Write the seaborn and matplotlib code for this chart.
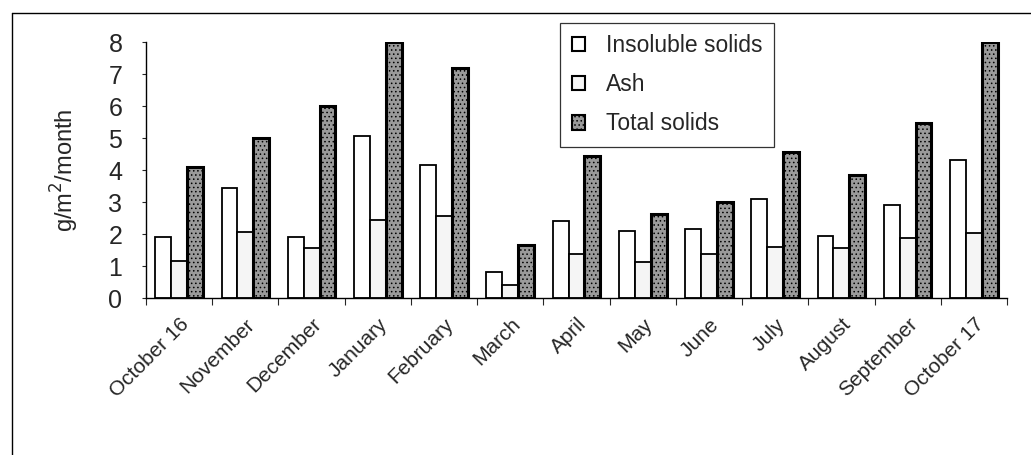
import numpy as np
import pandas as pd
import matplotlib
matplotlib.use("Agg")
import matplotlib.pyplot as plt
import seaborn as sns
from matplotlib.lines import Line2D

# ---------------- data ----------------
months = ["October 16", "November", "December", "January", "February", "March",
          "April", "May", "June", "July", "August", "September", "October 17"]
insoluble = [1.9, 3.45, 1.9, 5.05, 4.15, 0.8, 2.4, 2.1, 2.15, 3.1, 1.95, 2.9, 4.3]
ash = [1.15, 2.05, 1.57, 2.45, 2.55, 0.4, 1.38, 1.13, 1.38, 1.6, 1.57, 1.88, 2.03]
total = [4.1, 5.0, 6.0, 8.0, 7.2, 1.65, 4.43, 2.63, 3.0, 4.57, 3.85, 5.47, 8.0]
series = ["Insoluble solids", "Ash", "Total solids"]

df = pd.DataFrame({
    "month": months * 3,
    "value": insoluble + ash + total,
    "series": [series[0]] * 13 + [series[1]] * 13 + [series[2]] * 13,
})

# ---------------- style ----------------
sns.set_style("white")
plt.rcParams["font.family"] = ["Liberation Sans", "DejaVu Sans"]
plt.rcParams["hatch.linewidth"] = 0.6
plt.rcParams["hatch.color"] = "#555555"

fig = plt.figure(figsize=(10.31, 4.55), dpi=100)
ax = fig.add_axes([146 / 1031, 1 - 298 / 455, 861 / 1031, 256 / 455])

colors = {"Insoluble solids": "white", "Ash": "#f5f5f5", "Total solids": "#9a9a9a"}
sns.barplot(data=df, x="month", y="value", hue="series", order=months,
            hue_order=series, palette=colors, width=0.72, ax=ax,
            edgecolor="black", linewidth=1.3, legend=False)

# textured look for total solids
for bar in ax.containers[2]:
    bar.set_hatch("....")
    bar.set_linewidth(2.2)

ax.set_xlim(-0.5, 12.5)
ax.set_ylim(0, 8)
ax.set_yticks(range(0, 9))
ax.tick_params(axis="y", left=True, labelsize=18, length=3, width=0.8,
               direction="out", pad=14)
ax.set_xticks(range(13))
ax.set_xticklabels(months, rotation=45, ha="right", rotation_mode="anchor",
                   fontsize=15)
ax.tick_params(axis="x", which="major", bottom=False, length=0, pad=12)
ax.set_xticks(np.arange(-0.5, 13, 1), minor=True)
ax.tick_params(axis="x", which="minor", bottom=True, length=5, width=0.8,
               direction="out")
ax.set_xlabel("")
ax.set_ylabel("g/m$^2$/month", fontsize=17, labelpad=20)

for s in ["top", "right"]:
    ax.spines[s].set_visible(False)
for s in ["left", "bottom"]:
    ax.spines[s].set_linewidth(1.0)
    ax.spines[s].set_color("black")

# legend
handles = [plt.Rectangle((0, 0), 1, 1, facecolor=colors[s], edgecolor="black",
                         linewidth=1.5, hatch="...." if s == "Total solids" else None)
           for s in series]
leg = ax.legend(handles, series, loc="upper left", bbox_to_anchor=(0.481, 1.075),
                fontsize=16.5, frameon=True, fancybox=False, edgecolor="black",
                handlelength=0.6, handleheight=0.6, handletextpad=0.9,
                labelspacing=0.7, borderpad=0.5, borderaxespad=0)
leg.get_frame().set_linewidth(0.9)

# outer frame lines of the original figure box
fig.add_artist(Line2D([12 / 1031, 1], [1 - 13 / 455, 1 - 13 / 455], color="black", lw=1.0))
fig.add_artist(Line2D([12 / 1031, 12 / 1031], [0, 1 - 13 / 455], color="black", lw=1.0))

fig.savefig("out.png", dpi=100)
